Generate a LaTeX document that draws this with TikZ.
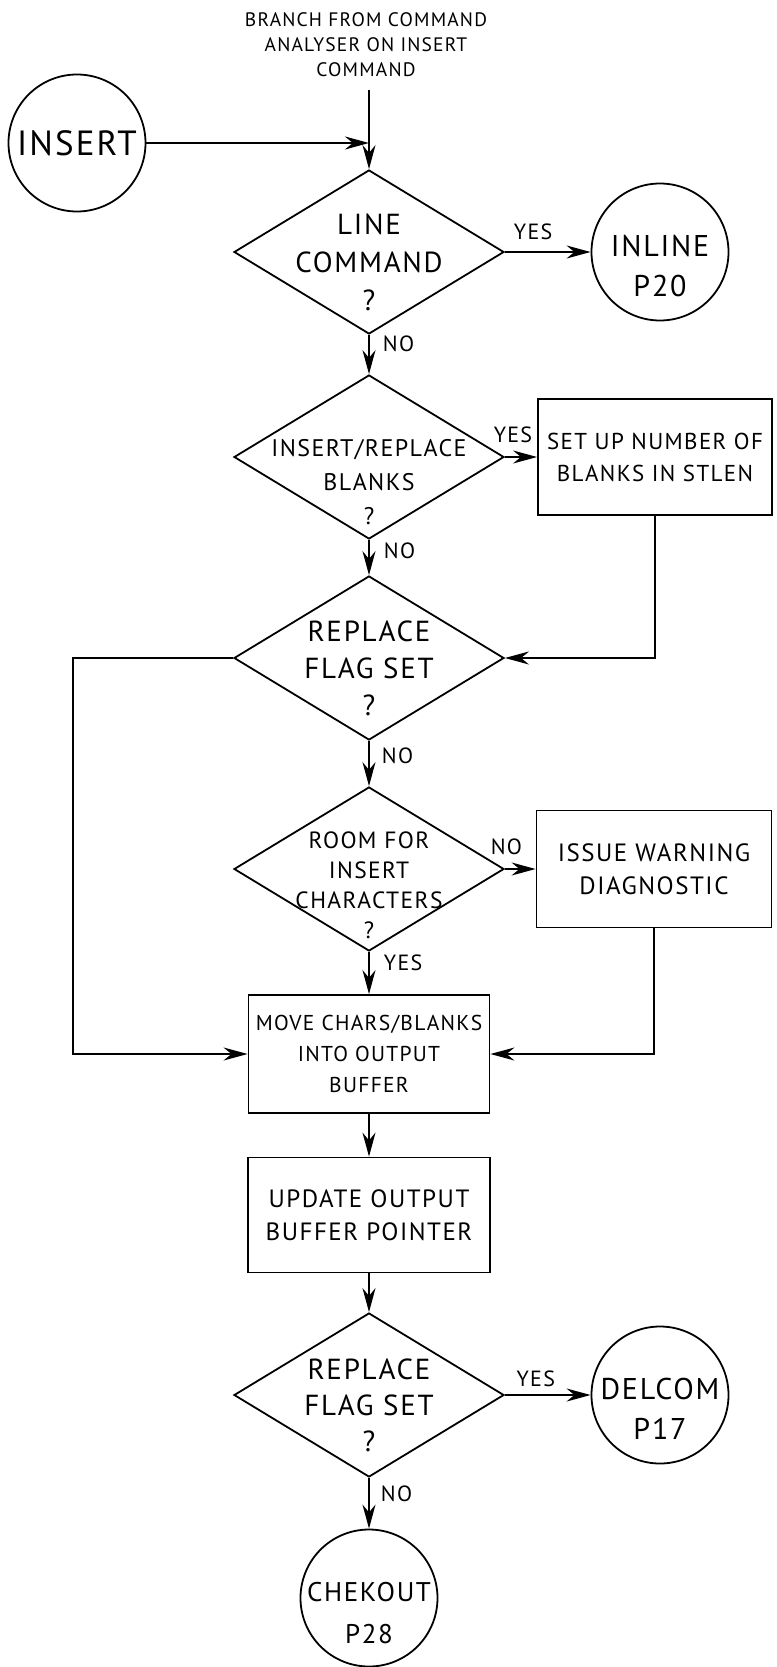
\documentclass[tikz,border=0pt]{standalone}
\usepackage{fontspec}
\setmainfont{PT Sans}[LetterSpace=6]
\usetikzlibrary{shapes.geometric,arrows.meta}

\begin{document}
\begin{tikzpicture}[x=1pt, y=-1pt,
        every node/.style={align=center, inner sep=0pt, font=\fontsize{25}{33}\selectfont},
        flow/.style={line width=1.8pt, -{Stealth[length=24pt, width=13pt]}},
        decision/.style={draw, diamond, line width=1.8pt, minimum width=270pt, minimum height=164pt},
        process/.style={draw, line width=1.8pt},
        connector/.style={draw, circle, line width=1.8pt, minimum size=137pt},
        answer/.style={font=\fontsize{22}{22}\selectfont}]
        \useasboundingbox (0,0) rectangle (776,1667);

        % entry points
        \node[font=\fontsize{19.5}{25}\selectfont] (branch) at (366,45) {BRANCH FROM COMMAND\\ANALYSER ON INSERT\\COMMAND};
        \node[connector, font=\fontsize{35}{35}\selectfont] (insert) at (77,143) {INSERT};
        \coordinate (feed) at (369,90);
        \coordinate (join) at (369,143);

        % decisions down the middle
        \node[decision, label={[yshift=-10pt, font=\fontsize{29}{38}\selectfont]center:{LINE\\COMMAND\\?}}] (linecmd) at (369,252) {};
        \node[decision, label={[yshift=-25pt, font=\fontsize{24}{34}\selectfont]center:{INSERT/REPLACE\\BLANKS\\?}}] (blanks) at (369,457) {};
        \node[decision, label={[yshift=-10pt, font=\fontsize{29}{37}\selectfont]center:{REPLACE\\FLAG SET\\?}}] (flagset) at (369,658) {};
        \node[decision, label={[yshift=-16pt, font=\fontsize{23.5}{30}\selectfont]center:{ROOM FOR\\INSERT\\CHARACTERS\\?}}] (room) at (369,869) {};
        \node[decision, label={[yshift=-10pt, font=\fontsize{29}{36}\selectfont]center:{REPLACE\\FLAG SET\\?}}] (flagtwo) at (369,1395) {};

        % boxes
        \node[process, minimum width=234pt, minimum height=116pt, font=\fontsize{23}{32}\selectfont] (stlen) at (655,457) {SET UP NUMBER OF\\BLANKS IN STLEN};
        \node[process, minimum width=235pt, minimum height=117pt] (warn) at (654,869) {ISSUE WARNING\\DIAGNOSTIC};
        \node[process, minimum width=241pt, minimum height=118pt, font=\fontsize{21.5}{31}\selectfont] (move) at (369,1054) {MOVE CHARS/BLANKS\\INTO OUTPUT\\BUFFER};
        \node[process, minimum width=242pt, minimum height=115pt] (update) at (369,1215) {UPDATE OUTPUT\\BUFFER POINTER};

        % exits
        \node[connector, label={[yshift=-14pt, font=\fontsize{30}{40}\selectfont]center:{INLINE\\P20}}] (inline) at (660,252) {};
        \node[connector, label={[yshift=-14pt, font=\fontsize{30}{40}\selectfont]center:{DELCOM\\P17}}] (delcom) at (660,1395) {};
        \node[connector, label={[yshift=-15pt, font=\fontsize{27}{42}\selectfont]center:{CHEKOUT\\P28}}] (chekout) at (369,1598) {};
        \coordinate (bypass) at (73,658);

        \draw[flow] (feed) -- (linecmd.north);
        \draw[flow] (insert) -- (join);
        \draw[flow] (linecmd.east) -- node[answer, above=11pt, pos=0.33] {YES} (inline);
        \draw[flow] (linecmd.south) -- node[answer, right=13pt, pos=0.23] {NO} (blanks.north);
        \draw[flow] (blanks.east) -- node[answer, above=13pt, pos=0.25] {YES} (stlen.west);
        \draw[flow] (blanks.south) -- node[answer, right=14pt, pos=0.32] {NO} (flagset.north);
        \draw[flow] (stlen.south) |- (flagset.east);
        \draw[flow] (flagset.west) -- (bypass) |- (move.west);
        \draw[flow] (flagset.south) -- node[answer, right=12pt, pos=0.32] {NO} (room.north);
        \draw[flow] (room.east) -- node[answer, above=13pt, pos=0.05] {NO} (warn.west);
        \draw[flow] (room.south) -- node[answer, right=14pt, pos=0.26] {YES} (move.north);
        \draw[flow] (warn.south) |- (move.east);
        \draw[flow] (move.south) -- (update.north);
        \draw[flow] (update.south) -- (flagtwo.north);
        \draw[flow] (flagtwo.east) -- node[answer, above=7pt, pos=0.36] {YES} (delcom);
        \draw[flow] (flagtwo.south) -- node[answer, right=11pt, pos=0.32] {NO} (chekout.north);
\end{tikzpicture}
\end{document}
